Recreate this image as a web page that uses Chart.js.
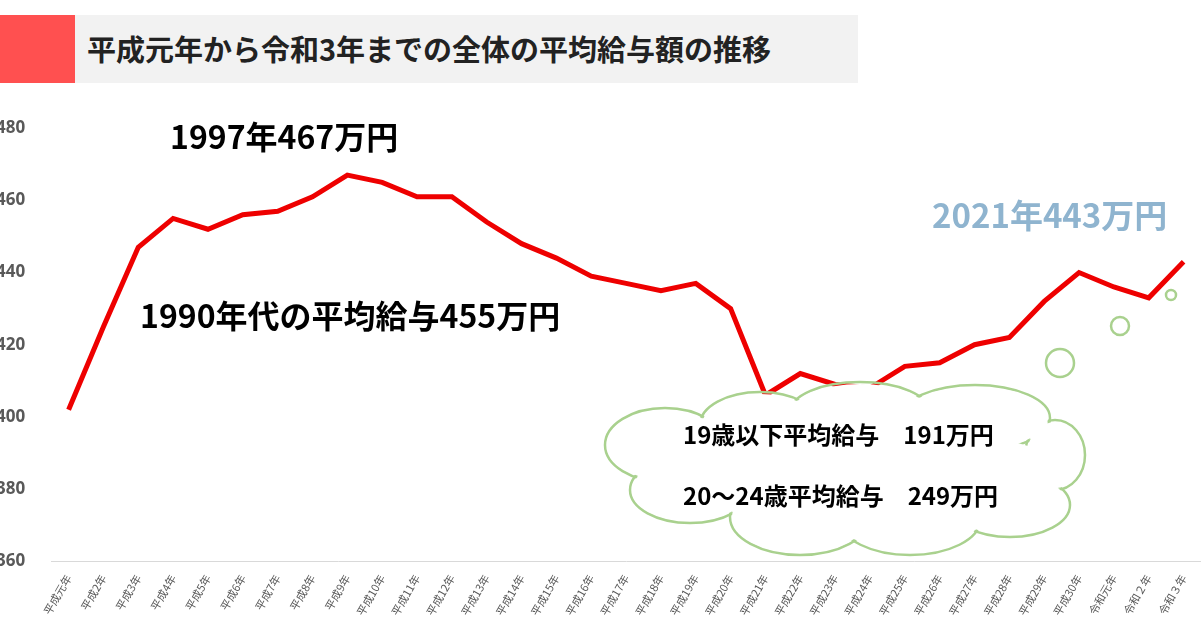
<!DOCTYPE html>
<html><head><meta charset="utf-8">
<script src="https://cdn.jsdelivr.net/npm/chart.js@4"></script>
<style>
body{margin:0;width:1201px;height:621px;overflow:hidden;background:#fff;font-family:"Noto Sans CJK JP",sans-serif;position:relative}
#red{position:absolute;left:0;top:15px;width:75px;height:68px;background:#ff5050}
#ttl{position:absolute;left:75px;top:15px;width:783px;height:68px;background:#f2f2f2;font-size:29px;font-weight:bold;line-height:66px;padding-left:12px;box-sizing:border-box;color:#222}
#wrap{position:absolute;left:-22px;top:100px;width:1223px;height:521px}
</style></head><body>
<div id="red"></div><div id="ttl">平成元年から令和3年までの全体の平均給与額の推移</div>
<div id="wrap"><canvas id="c"></canvas></div>
<script>
const categories=["平成元年","平成2年","平成3年","平成4年","平成5年","平成6年","平成7年","平成8年","平成9年","平成10年","平成11年","平成12年","平成13年","平成14年","平成15年","平成16年","平成17年","平成18年","平成19年","平成20年","平成21年","平成22年","平成23年","平成24年","平成25年","平成26年","平成27年","平成28年","平成29年","平成30年","令和元年","令和２年","令和３年"];
const salary=[402,425,447,455,452,456,457,461,467,465,461,461,454,448,444,439,437,435,437,430,406,412,409,408,414,415,420,422,432,440,436,433,443];
const yTicks=[360,380,400,420,440,460,480];
const deco={id:'deco',afterDatasetsDraw(ch){
 const c=ch.ctx;c.save();
 const ox=22,oy=-100;
 c.translate(ox,oy);
 c.strokeStyle='#a9d18e';c.lineWidth=2.5;c.fillStyle='#fff';
 const blobs=[[665,445,60,37],[760,425,60,33],[860,412,70,30],[975,418,75,33],[1055,455,30,35],[1010,505,60,32],[910,520,70,35],[800,517,70,38],[690,490,60,33]];
 blobs.forEach(b=>{c.beginPath();c.ellipse(b[0],b[1],b[2],b[3],0,0,Math.PI*2);c.stroke();});
 blobs.forEach(b=>{c.beginPath();c.ellipse(b[0],b[1],b[2]-2,b[3]-2,0,0,Math.PI*2);c.fill();});
 c.beginPath();c.ellipse(850,470,210,45,0,0,Math.PI*2);c.fill();
 [[1060,363,14],[1120,326,9],[1171,295,5]].forEach(b=>{c.beginPath();c.arc(b[0],b[1],b[2],0,Math.PI*2);c.fill();c.stroke();});
 c.fillStyle='#000';c.font='bold 24px "Noto Sans CJK JP"';c.textBaseline='middle';
 c.fillText('19歳以下平均給与　191万円',683,435);
 c.fillText('20～24歳平均給与　249万円',683,496);
 c.font='bold 32px "Noto Sans CJK JP"';
 c.fillText('1997年467万円',170,137);
 c.fillText('1990年代の平均給与455万円',140,316);
 c.fillStyle='#8fb4cf';c.font='bold 33px "Noto Sans CJK JP"';
 c.fillText('2021年443万円',932,215);
 c.restore();}};
new Chart(document.getElementById('c'),{type:'line',
 data:{labels:categories,datasets:[{data:salary,borderColor:'#ee0000',borderWidth:5,pointRadius:0,tension:0}]},
 plugins:[deco],
 options:{responsive:true,maintainAspectRatio:false,animation:false,
  layout:{padding:{top:7,right:0,bottom:0}},
  plugins:{legend:{display:false},tooltip:{enabled:false}},
  scales:{
   y:{min:360,max:480,afterBuildTicks(a){a.ticks=yTicks.map(v=>({value:v}));},
      grid:{display:false},border:{display:false},
      ticks:{color:'#595959',font:{size:17,weight:'bold',family:'Noto Sans'},padding:18}},
   x:{offset:true,grid:{display:false},border:{color:'#d9d9d9'},
      ticks:{color:'#595959',font:{size:11,family:'Noto Sans CJK JP'},maxRotation:60,minRotation:60,autoSkip:false}}}}});
</script></body></html>
